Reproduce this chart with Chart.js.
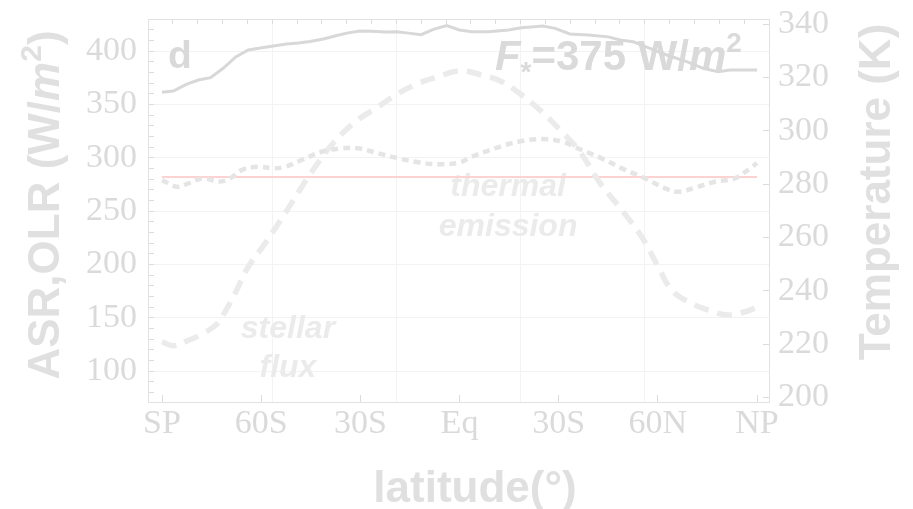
<!DOCTYPE html>
<html>
<head>
<meta charset="utf-8">
<title>latitude profile d</title>
<script src="https://cdn.jsdelivr.net/npm/chart.js@4/dist/chart.umd.min.js"></script>
<style>
  body { margin: 0; background: #fff; }
  #wrap { width: 913px; height: 509px; }
</style>
</head>
<body>
<div id="wrap"><canvas id="c" width="913" height="509"></canvas></div>
<script>
// latitude tick positions and their labels (as printed on the figure)
var latTicks = [-90, -60, -30, 0, 30, 60, 90];
var latTickLabels = ['SP', '60S', '30S', 'Eq', '30S', '60N', 'NP'];

// surface temperature (K), right axis, solid line
var tempLat = [-90, -86.6, -82.5, -79.0, -75.3, -71.5, -67.7, -63.9, -59.8, -56.3, -52.3, -48.8, -45.2, -41.2,
    -37.7, -34.1, -30.1, -26.6, -22.5, -19.0, -15.5, -11.6, -7.9, -3.9, 0, 3.7, 8.7, 14.8, 18.8, 25.3, 28.9,
    33.4, 39.0, 45.0, 48.6, 52.5, 57.6, 62.7, 68.7, 73.7, 78.2, 81.8, 90];
var tempK = [314.4, 314.9, 317.5, 319.0, 319.9, 323.4, 327.7, 330.3, 331.1, 331.8, 332.5, 332.9, 333.5, 334.4,
    335.5, 336.6, 337.4, 337.3, 337.0, 337.1, 336.6, 336.0, 338.0, 339.4, 337.8, 337.1, 337.1, 337.8, 338.6, 339.3, 338.4,
    336.3, 335.9, 335.2, 334.0, 333.4, 330.9, 328.4, 325.9, 323.4, 322.1, 322.75, 322.75];

// absorbed stellar flux (W/m2), left axis, dashed
var asrLat = [-90, -86.6, -82.1, -77.6, -73.7, -71.5, -67.9, -63.9, -58.8, -52.8, -48.3, -44.7, -38.7, -32.1,
    -24.6, -18.5, -12.5, -6.4, 0, 6.7, 12.8, 18.8, 24.9, 30.9, 36.4, 42.5, 49.1, 55.1, 60.1, 64.2, 69.2, 75.3, 81.3, 86.4, 90];
var asr = [127.5, 123.7, 128.6, 135.3, 143.1, 152.5, 172.8, 197.8, 219.7, 247.8, 269.7, 286.8, 311.9, 332.2,
    347.8, 360.3, 369.7, 375.9, 381.3, 377.5, 371.2, 358.8, 343.1, 324.3, 305.6, 276.3, 250.9, 225.9, 197.8, 175.9, 165.0, 157.2, 152.5, 155.6, 159.7];

// outgoing thermal emission (W/m2), left axis, dotted
var olrLat = [-90, -85.6, -82.0, -77.5, -73.0, -69.4, -65.9, -60.9, -56.3, -52.8, -47.7, -41.7, -35.6, -30.6,
    -24.6, -18.5, -12.5, -6.4, 0, 3.7, 10.7, 17.8, 24.9, 30.9, 37.0, 43.0, 49.1, 56.1, 62.2, 66.2, 71.2, 77.3, 83.3, 87.9, 90];
var olr = [279.1, 272.8, 276.0, 280.7, 277.5, 280.7, 288.4, 291.5, 290.0, 291.5, 297.8, 305.6, 308.8, 308.8,
    304.1, 299.4, 295.7, 293.8, 295.5, 300.9, 308.8, 315.0, 317.5, 315.0, 307.2, 299.4, 290.0, 280.7, 271.3, 268.1, 271.8, 277.5, 280.7, 290.0, 295.0];

// horizontal reference (global mean)
var meanLat = [-90, 90];
var meanFlux = [282, 282];

function pts(xs, ys) {
    return xs.map(function(x, i) { return {x: x, y: ys[i]}; });
}

var tickFont = {family: 'Liberation Serif', size: 34};
var tickGray = '#dadada';
var gridGray = '#f3f3f3';
var frameGray = '#e2e2e2';

// force the plot area where the figure has it
function fixW(w) {
    return function(s) { s.width = w; s.paddingTop = 0; s.paddingBottom = 0; s.paddingLeft = 0; s.paddingRight = 0; };
}
function fixH(h) {
    return function(s) { s.height = h; s.paddingTop = 0; s.paddingBottom = 0; s.paddingLeft = 0; s.paddingRight = 0; };
}

// text drawn in pieces, so italic / sub / superscript parts can be mixed
function runs(ctx, parts, x, y, align) {
    var total = 0;
    parts.forEach(function(p) { ctx.font = p.f; total += ctx.measureText(p.t).width; });
    var cx = align === 'center' ? x - total / 2 : x;
    ctx.textAlign = 'left';
    ctx.textBaseline = 'alphabetic';
    parts.forEach(function(p) {
        ctx.font = p.f;
        ctx.fillText(p.t, cx, y + (p.dy || 0));
        cx += ctx.measureText(p.t).width;
    });
}

var B = 'bold 44px "Liberation Sans"';
var BI = 'italic bold 44px "Liberation Sans"';

var labels = {
    id: 'labels',
    beforeDatasetsDraw: function(chart) {
        var ctx = chart.ctx;
        var sx = chart.scales.x, sy = chart.scales.y;
        ctx.save();

        ctx.fillStyle = '#d9d9d9';
        runs(ctx, [{t: 'd', f: 'bold 39px "Liberation Sans"'}], sx.getPixelForValue(-88.2), sy.getPixelForValue(384.1), 'left');

        ctx.fillStyle = '#dadada';
        runs(ctx, [
            {t: 'F', f: 'italic bold 42px "Liberation Sans"'},
            {t: '*', f: 'bold 28px "Liberation Sans"', dy: 11},
            {t: '=375 W/', f: 'bold 42px "Liberation Sans"'},
            {t: 'm', f: 'italic bold 42px "Liberation Sans"'},
            {t: '2', f: 'bold 28px "Liberation Sans"', dy: -18}
        ], sx.getPixelForValue(10.7), sy.getPixelForValue(382.2), 'left');

        ctx.fillStyle = '#ebebeb';
        var f = 'italic bold 32px "Liberation Sans"';
        runs(ctx, [{t: 'thermal', f: f}], sx.getPixelForValue(14.7), sy.getPixelForValue(264), 'center');
        runs(ctx, [{t: 'emission', f: f}], sx.getPixelForValue(14.7), sy.getPixelForValue(226.6), 'center');
        runs(ctx, [{t: 'stellar', f: f}], sx.getPixelForValue(-51.9), sy.getPixelForValue(131), 'center');
        runs(ctx, [{t: 'flux', f: f}], sx.getPixelForValue(-51.9), sy.getPixelForValue(94.4), 'center');

        // axis titles
        ctx.fillStyle = '#e0e0e0';
        runs(ctx, [{t: 'latitude(°)', f: B}], 475, 502, 'center');

        ctx.save();
        ctx.translate(59, 205);
        ctx.rotate(-Math.PI / 2);
        runs(ctx, [
            {t: 'ASR,OLR (W/', f: B},
            {t: 'm', f: BI},
            {t: '2', f: 'bold 30px "Liberation Sans"', dy: -18},
            {t: ')', f: B}
        ], 0, 0, 'center');
        ctx.restore();

        ctx.save();
        ctx.translate(890, 192);
        ctx.rotate(-Math.PI / 2);
        runs(ctx, [{t: 'Temperature (K)', f: B}], 0, 0, 'center');
        ctx.restore();

        ctx.restore();
    }
};

var ctx = document.getElementById('c').getContext('2d');

new Chart(ctx, {
    type: 'line',
    data: {
        datasets: [{
            label: 'thermal emission',
            data: pts(olrLat, olr),
            yAxisID: 'y',
            borderColor: '#e5e5e5',
            borderWidth: 4.5,
            borderDash: [7, 5],
            tension: 0.4,
            pointRadius: 0
        }, {
            label: 'stellar flux',
            data: pts(asrLat, asr),
            yAxisID: 'y',
            borderColor: '#ebebeb',
            borderWidth: 5.5,
            borderDash: [15, 9],
            tension: 0.4,
            pointRadius: 0
        }, {
            label: 'mean',
            data: pts(meanLat, meanFlux),
            yAxisID: 'y',
            borderColor: '#ffd2d2',
            borderWidth: 2,
            pointRadius: 0
        }, {
            label: 'temperature',
            data: pts(tempLat, tempK),
            yAxisID: 'y2',
            borderColor: '#d8d8d8',
            borderWidth: 3,
            tension: 0,
            pointRadius: 0
        }]
    },
    options: {
        responsive: false,
        animation: false,
        devicePixelRatio: 1,
        layout: {padding: 0},
        plugins: {legend: {display: false}, tooltip: {enabled: false}},
        scales: {
            x: {
                type: 'linear',
                position: 'bottom',
                min: -94.24,
                max: 93.63,
                afterFit: fixH(107),
                afterBuildTicks: function(s) {
                    s.ticks = latTicks.map(function(v) { return {value: v}; });
                },
                border: {color: frameGray},
                grid: {drawOnChartArea: false, tickLength: -7, tickColor: '#dcdcdc'},
                ticks: {
                    autoSkip: false,
                    maxRotation: 0,
                    padding: 9,
                    font: tickFont,
                    color: tickGray,
                    callback: function(v) {
                        var i = latTicks.indexOf(v);
                        return i < 0 ? '' : latTickLabels[i];
                    }
                }
            },
            x2: {
                type: 'linear',
                position: 'top',
                min: 0,
                max: 25,
                afterFit: fixH(19),
                border: {color: frameGray},
                grid: {
                    tickLength: -5,
                    tickColor: '#dcdcdc',
                    color: function(c) {
                        var v = c.tick ? c.tick.value : 0;
                        return (v % 5 === 0 && v > 0 && v < 25) ? gridGray : 'rgba(0,0,0,0)';
                    }
                },
                ticks: {stepSize: 1, autoSkip: false, display: false}
            },
            y: {
                type: 'linear',
                position: 'left',
                min: 71,
                max: 430,
                afterFit: fixW(148),
                border: {color: frameGray},
                grid: {
                    tickLength: -6,
                    tickColor: '#dcdcdc',
                    color: function(c) {
                        var v = c.tick ? c.tick.value : 0;
                        return (v % 50 === 0) ? gridGray : 'rgba(0,0,0,0)';
                    }
                },
                ticks: {
                    stepSize: 10,
                    includeBounds: false,
                    autoSkip: false,
                    padding: 17,
                    font: tickFont,
                    color: tickGray,
                    callback: function(v) { return v % 50 === 0 ? v : ''; }
                }
            },
            y2: {
                type: 'linear',
                position: 'right',
                min: 198.25,
                max: 341.9,
                afterFit: fixW(144),
                border: {color: frameGray},
                grid: {drawOnChartArea: false, tickLength: -6, tickColor: '#dcdcdc'},
                ticks: {
                    stepSize: 20,
                    includeBounds: false,
                    autoSkip: false,
                    padding: 15,
                    font: tickFont,
                    color: tickGray
                }
            }
        }
    },
    plugins: [labels]
});
</script>
</body>
</html>
